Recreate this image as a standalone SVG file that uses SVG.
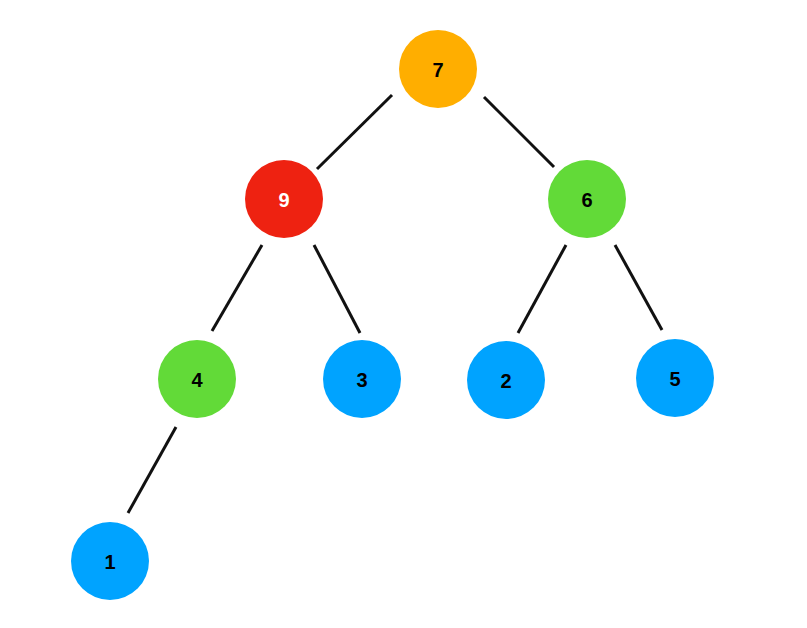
<svg xmlns="http://www.w3.org/2000/svg" width="807" height="628" viewBox="0 0 807 628">
<style>
.n text{font-family:"Liberation Sans",Arial,sans-serif;font-weight:bold;font-size:20px;text-anchor:middle;dominant-baseline:central;fill:#000}
.e line{stroke:#111;stroke-width:3;stroke-linecap:butt}
.o{fill:#FFAE00}.r{fill:#EE2211}.g{fill:#62DA38}.b{fill:#00A3FF}
</style>
<rect width="807" height="628" fill="#fff"/>
<g id="connectors" class="e">
<line x1="392" y1="95" x2="317" y2="169"/>
<line x1="484" y1="97" x2="554" y2="167"/>
<line x1="262" y1="245" x2="212" y2="331"/>
<line x1="314" y1="245" x2="360" y2="333"/>
<line x1="566" y1="245" x2="518" y2="333"/>
<line x1="615" y1="245" x2="662" y2="330"/>
<line x1="176" y1="427" x2="128" y2="513"/>
</g>
<g id="n7" class="n"><circle class="o" cx="438" cy="69" r="39"/><text x="438" y="70">7</text></g>
<g id="n9" class="n"><circle class="r" cx="284" cy="199" r="39"/><text x="284" y="200" style="fill:#fff">9</text></g>
<g id="n6" class="n"><circle class="g" cx="587" cy="199" r="39"/><text x="587" y="200">6</text></g>
<g id="n4" class="n"><circle class="g" cx="197" cy="379" r="39"/><text x="197" y="380">4</text></g>
<g id="n3" class="n"><circle class="b" cx="362" cy="379" r="39"/><text x="362" y="380">3</text></g>
<g id="n2" class="n"><circle class="b" cx="506" cy="380" r="39"/><text x="506" y="381">2</text></g>
<g id="n5" class="n"><circle class="b" cx="675" cy="378" r="39"/><text x="675" y="379">5</text></g>
<g id="n1" class="n"><circle class="b" cx="110" cy="561" r="39"/><text x="110" y="562">1</text></g>
</svg>
